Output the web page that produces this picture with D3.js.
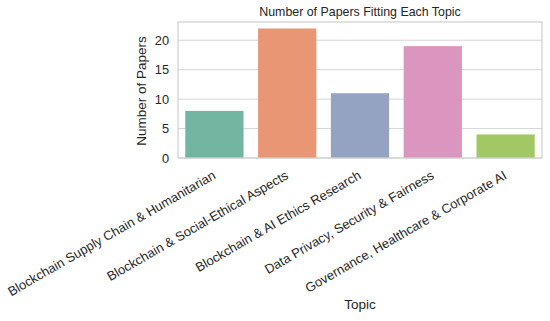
<!DOCTYPE html>
<html>
<head>
<meta charset="utf-8">
<script src="https://cdn.jsdelivr.net/npm/d3@7"></script>
<style>
    body { margin: 0; background: #fff; }
    text { font-family: "Liberation Sans", Arial, sans-serif; fill: #262626; }
</style>
</head>
<body>
<div id="chart"></div>
<script>
'use strict';

var topics = [
    'Blockchain Supply Chain & Humanitarian',
    'Blockchain & Social-Ethical Aspects',
    'Blockchain & AI Ethics Research',
    'Data Privacy, Security & Fairness',
    'Governance, Healthcare & Corporate AI'
];
var paperCounts = [8, 22, 11, 19, 4];
var yTicks = [0, 5, 10, 15, 20];
var palette = ['#66c2a5', '#fc8d62', '#8da0cb', '#e78ac3', '#a6d854'];

(function () {

    var width = 550;
    var height = 321;
    var margin = { top: 22, right: 8, bottom: 163, left: 178 };
    var innerW = width - margin.left - margin.right;
    var innerH = height - margin.top - margin.bottom;

    var svg = d3.select('#chart')
        .append('svg')
        .attr('width', width)
        .attr('height', height);

    var g = svg.append('g')
        .attr('transform', 'translate(' + margin.left + ',' + margin.top + ')');

    var x = d3.scaleBand()
        .domain(topics)
        .range([0, innerW])
        .paddingInner(0.2)
        .paddingOuter(0.1);

    var y = d3.scaleLinear()
        .domain([0, d3.max(paperCounts) * 1.05])
        .range([innerH, 0]);

    // seaborn desaturates bar colours a bit
    var colors = palette.map(function (c) {
        var h = d3.hsl(c);
        h.s *= 0.75;
        return h.formatHex();
    });

    // horizontal grid
    g.selectAll('.grid')
        .data(yTicks)
        .enter()
        .append('line')
        .attr('x1', 0)
        .attr('x2', innerW)
        .attr('y1', function (d) { return y(d); })
        .attr('y2', function (d) { return y(d); })
        .attr('stroke', '#d6d6d6')
        .attr('stroke-width', 1);

    g.selectAll('.bar')
        .data(paperCounts)
        .enter()
        .append('rect')
        .attr('x', function (d, i) { return x(topics[i]); })
        .attr('y', function (d) { return y(d); })
        .attr('width', x.bandwidth())
        .attr('height', function (d) { return innerH - y(d); })
        .attr('fill', function (d, i) { return colors[i]; });

    // frame
    g.append('rect')
        .attr('width', innerW)
        .attr('height', innerH)
        .attr('fill', 'none')
        .attr('stroke', '#d0d0d0')
        .attr('stroke-width', 1.2);

    var yAxis = g.append('g')
        .call(d3.axisLeft(y).tickValues(yTicks).tickSize(0).tickPadding(9));
    yAxis.select('.domain').remove();
    yAxis.selectAll('text').style('font-size', '12.8px');

    var xAxis = g.append('g')
        .attr('transform', 'translate(0,' + innerH + ')')
        .call(d3.axisBottom(x).tickSize(0));
    xAxis.select('.domain').remove();
    xAxis.selectAll('text')
        .style('font-size', '13px')
        .attr('text-anchor', 'end')
        .attr('dy', null)
        .attr('y', 0)
        .attr('transform', 'translate(2,20) rotate(-30)');

    svg.append('text')
        .attr('x', margin.left + innerW / 2)
        .attr('y', 16)
        .attr('text-anchor', 'middle')
        .style('font-size', '12.4px')
        .text('Number of Papers Fitting Each Topic');

    svg.append('text')
        .attr('transform', 'translate(' + 146 + ',' + (margin.top + innerH / 2 + 1) + ') rotate(-90)')
        .attr('text-anchor', 'middle')
        .style('font-size', '13.5px')
        .text('Number of Papers');

    svg.append('text')
        .attr('x', margin.left + innerW / 2)
        .attr('y', 309)
        .attr('text-anchor', 'middle')
        .style('font-size', '13.5px')
        .text('Topic');

})();
</script>
</body>
</html>
